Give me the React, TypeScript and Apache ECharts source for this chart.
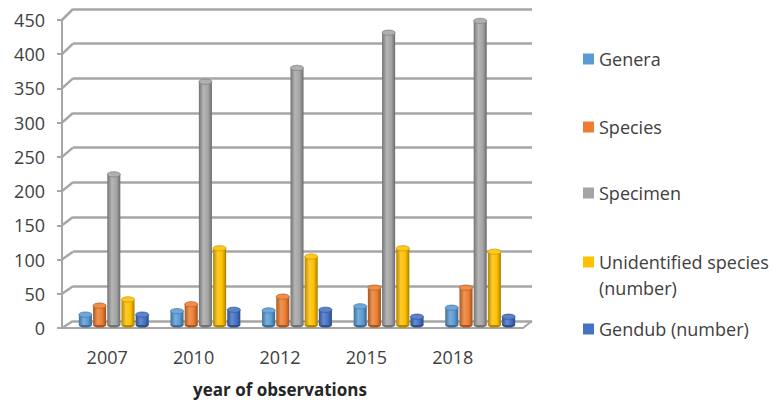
import React, { useEffect, useRef } from "react";
import * as echarts from "echarts";

// Observation years on the category axis
const years = ["2007", "2010", "2012", "2015", "2018"];

// Counts per year for each measured quantity
const genera = [15, 20, 21, 27, 25];
const species = [28, 30, 41, 54, 54];
const specimen = [218, 352, 372, 423, 440];
const unidentified = [37, 111, 99, 111, 106];
const gendub = [15, 22, 22, 12, 12];

const seriesNames = [
  "Genera",
  "Species",
  "Specimen",
  "Unidentified species (number)",
  "Gendub (number)",
];
const seriesValues = [genera, species, specimen, unidentified, gendub];
const seriesColors = ["#5B9BD5", "#ED7D31", "#A5A5A5", "#FFC000", "#4472C4"];

// Value axis ticks
const yMin = 0;
const yMax = 450;
const yStep = 50;

const FONT = '"Open Sans", sans-serif';
const TEXT = "#404040";
const GRID_LINE = "#a6a6a6";

// Pseudo-3D box: back wall, front edge, bar plane (mid depth)
const W = 781;
const H = 408;
const BACK = { left: 73, right: 532, top: 9, bottom: 321 };
const FRONT = { left: 62, right: 523, top: 20, bottom: 328 };
const MID = { left: 68, right: 526, top: 14, bottom: 325 };
const LABELS = { left: 64, right: 496 };

function toGrid(r: { left: number; right: number; top: number; bottom: number }) {
  return { left: r.left, width: r.right - r.left, top: r.top, height: r.bottom - r.top, containLabel: false };
}

function mix(hex: string, target: number, t: number) {
  const n = parseInt(hex.slice(1), 16);
  const ch = [(n >> 16) & 255, (n >> 8) & 255, n & 255].map((c) => Math.round(c + (target - c) * t));
  return "rgb(" + ch.join(",") + ")";
}

function cylinder(params: any, api: any) {
  const cat = api.value(0);
  const val = api.value(1);
  const base = api.coord([cat, 0]);
  const top = api.coord([cat, val]);
  const catW = api.size([1, 0])[0];
  const step = catW * 0.155;
  const w = step * 0.92;
  const cx = top[0] + (params.seriesIndex - 2) * step;
  const x0 = cx - w / 2;
  const ry = w * 0.2;
  const color = seriesColors[params.seriesIndex];
  const body = {
    type: "linear",
    x: 0,
    y: 0,
    x2: 1,
    y2: 0,
    colorStops: [
      { offset: 0, color: mix(color, 0, 0.3) },
      { offset: 0.35, color: mix(color, 255, 0.18) },
      { offset: 0.7, color: color },
      { offset: 1, color: mix(color, 0, 0.35) },
    ],
  };
  return {
    type: "group",
    children: [
      {
        type: "ellipse",
        shape: { cx, cy: base[1], rx: w / 2, ry },
        style: { fill: mix(color, 0, 0.3) },
      },
      {
        type: "rect",
        shape: { x: x0, y: top[1], width: w, height: base[1] - top[1] },
        style: { fill: body },
      },
      {
        type: "ellipse",
        shape: { cx, cy: top[1], rx: w / 2, ry },
        style: { fill: mix(color, 255, 0.12), stroke: mix(color, 0, 0.2), lineWidth: 0.8 },
      },
    ],
  };
}

const legendTops = [50, 118, 184, 253, 320];

export default function App() {
  const ref = useRef<HTMLDivElement>(null);

  useEffect(() => {
    if (!ref.current) return;
    const chart = echarts.init(ref.current, null, { renderer: "svg" });

    const hiddenY = (gridIndex: number) => ({
      type: "value",
      gridIndex,
      min: yMin,
      max: yMax,
      interval: yStep,
      show: false,
    });
    const hiddenX = (gridIndex: number) => ({
      type: "category",
      gridIndex,
      data: years,
      show: false,
    });

    const option: any = {
      animation: false,
      backgroundColor: "#ffffff",
      grid: [
        toGrid(BACK),
        toGrid(FRONT),
        toGrid(MID),
        { left: LABELS.left, width: LABELS.right - LABELS.left, top: FRONT.top, height: FRONT.bottom - FRONT.top },
      ],
      xAxis: [
        hiddenX(0),
        {
          type: "category",
          gridIndex: 1,
          data: years,
          axisLine: { show: true, lineStyle: { color: GRID_LINE, width: 2 } },
          axisTick: { show: false },
          axisLabel: { show: false },
        },
        hiddenX(2),
        {
          type: "category",
          gridIndex: 3,
          data: years,
          axisLine: { show: false },
          axisTick: { show: false },
          axisLabel: { margin: 20, fontSize: 18, fontFamily: FONT, color: TEXT },
          name: "year of observations",
          nameLocation: "middle",
          nameGap: 53,
          nameTextStyle: { fontSize: 17, fontWeight: "bold", fontFamily: FONT, color: "#262626" },
        },
      ],
      yAxis: [
        {
          type: "value",
          gridIndex: 0,
          min: yMin,
          max: yMax,
          interval: yStep,
          axisLine: { show: false },
          axisTick: { show: false },
          axisLabel: { show: false },
          splitLine: { show: true, lineStyle: { color: GRID_LINE, width: 2.5 } },
        },
        {
          type: "value",
          gridIndex: 1,
          min: yMin,
          max: yMax,
          interval: yStep,
          axisLine: { show: true, lineStyle: { color: GRID_LINE, width: 2 } },
          axisTick: { show: true, length: 5, lineStyle: { color: GRID_LINE, width: 2 } },
          axisLabel: { margin: 17, fontSize: 18, fontFamily: FONT, color: TEXT },
          splitLine: { show: false },
        },
        hiddenY(2),
        hiddenY(3),
      ],
      legend: seriesNames.map((name, i) => ({
        data: [name],
        orient: "vertical",
        left: 583,
        top: legendTops[i],
        padding: 0,
        icon: "rect",
        itemWidth: 11,
        itemHeight: 11,
        selectedMode: false,
        formatter: (n: string) => (n === "Unidentified species (number)" ? "Unidentified species" : n),
        textStyle: { fontSize: 18, fontFamily: FONT, color: TEXT },
      })),
      series: seriesNames.map((name, i) => ({
        name,
        type: "custom",
        xAxisIndex: 2,
        yAxisIndex: 2,
        renderItem: cylinder,
        itemStyle: { color: seriesColors[i] },
        encode: { x: 0, y: 1 },
        data: seriesValues[i].map((v, k) => [k, v]),
        z: 5,
      })),
    };

    chart.setOption(option);

    // Side wall and floor edges joining the front axis to the back wall
    const edges: any[] = [];
    for (let v = yMin; v <= yMax; v += yStep) {
      const yf = chart.convertToPixel({ yAxisIndex: 1 }, v) as number;
      const yb = chart.convertToPixel({ yAxisIndex: 0 }, v) as number;
      edges.push({
        type: "line",
        shape: { x1: FRONT.left, y1: yf, x2: BACK.left, y2: yb },
        style: { stroke: GRID_LINE, lineWidth: 2.5 },
        z: 1,
      });
    }
    const yf0 = chart.convertToPixel({ yAxisIndex: 1 }, 0) as number;
    const yb0 = chart.convertToPixel({ yAxisIndex: 0 }, 0) as number;
    edges.push({
      type: "line",
      shape: { x1: FRONT.right, y1: yf0, x2: BACK.right, y2: yb0 },
      style: { stroke: GRID_LINE, lineWidth: 2 },
      z: 1,
    });
    edges.push({
      type: "text",
      x: 583 + 11 + 5,
      y: 288,
      style: {
        text: "(number)",
        font: "18px " + FONT,
        fill: TEXT,
        verticalAlign: "middle",
      },
    });
    chart.setOption({ graphic: edges });

    return () => chart.dispose();
  }, []);

  return (
    <div
      ref={ref}
      style={{ position: "fixed", left: 0, top: 0, width: W, height: H }}
    />
  );
}
